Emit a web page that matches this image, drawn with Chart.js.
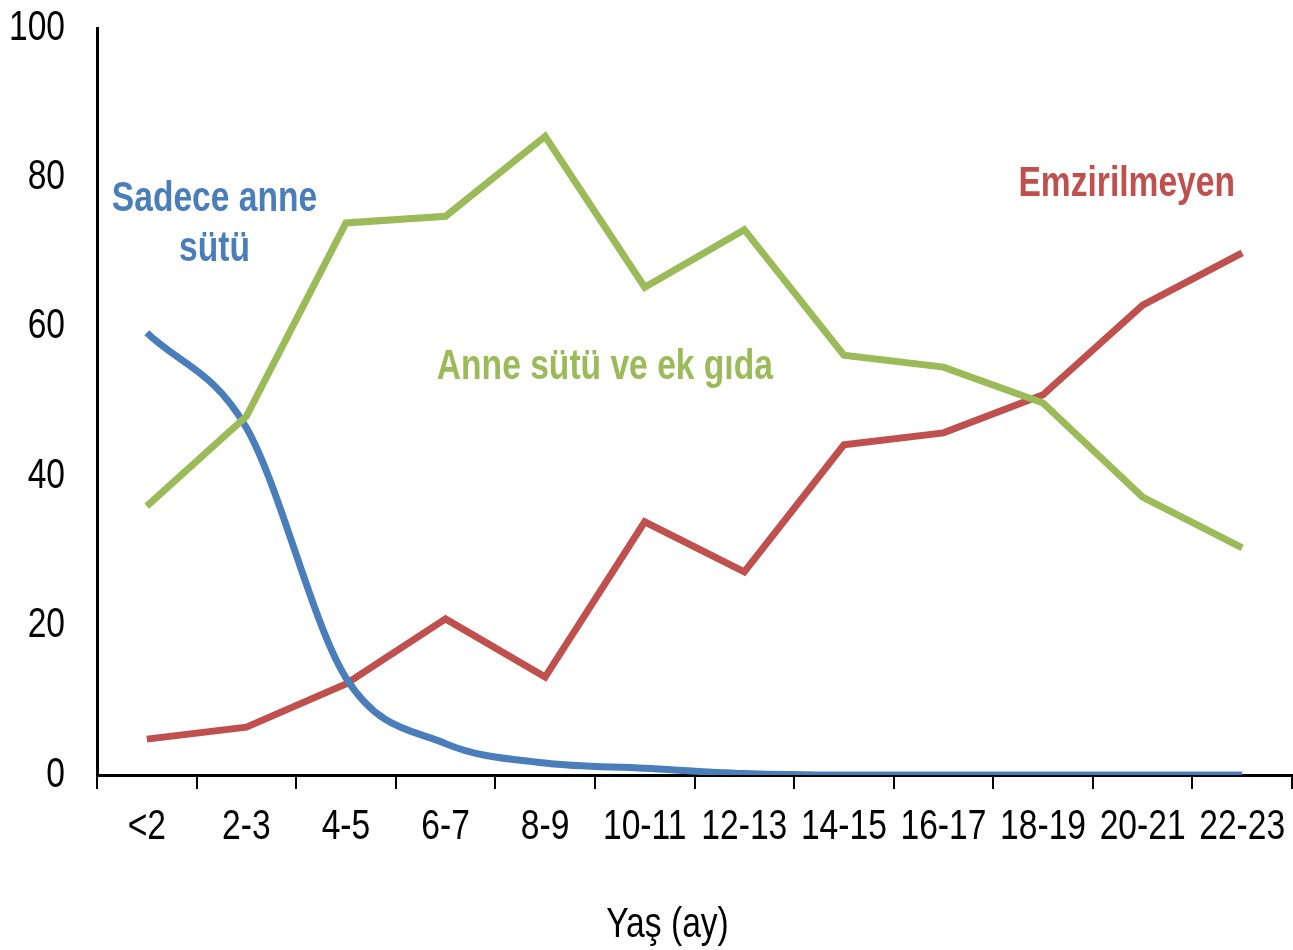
<!DOCTYPE html>
<html>
<head>
<meta charset="utf-8">
<script src="https://cdn.jsdelivr.net/npm/chart.js@4"></script>
<style>
  html, body { margin: 0; padding: 0; background: #fff; }
  #wrap { width: 1293px; height: 950px; }
</style>
</head>
<body>
<div id="wrap"><canvas id="lineChart"></canvas></div>
<script>
// Yaş grupları (ay)
let ageGroups = ["<2", "2-3", "4-5", "6-7", "8-9", "10-11", "12-13", "14-15", "16-17", "18-19", "20-21", "22-23"];
let yTicks = [0, 20, 40, 60, 80, 100];
let xTitle = "Yaş (ay)";

// Seriler (%)
let exclusive = [59.2, 46.5, 13, 4.2, 1.6, 0.9, 0.2, 0, 0, 0, 0, 0];
let mixed = [36, 48, 73.9, 74.8, 85.5, 65.3, 73, 56.2, 54.6, 49.8, 37.2, 30.4];
let notBreastfed = [4.8, 6.4, 12.2, 20.9, 13.1, 33.9, 27.2, 44.2, 45.8, 50.9, 62.9, 69.9];

let blue = "#4a7ebb";
let green = "#9bbb59";
let red = "#c0504d";
let font = "'Liberation Sans', Arial, sans-serif";
let squeeze = 0.8; // dar yazı (Arial Narrow gibi)

// etiketler, veri koordinatlarında
let notes = [
    {text: "Sadece anne", x: 0.68, y: 77, color: blue},
    {text: "sütü", x: 0.68, y: 70.3, color: blue},
    {text: "Anne sütü ve ek gıda", x: 4.6, y: 54.5, color: green},
    {text: "Emzirilmeyen", x: 9.84, y: 79, color: red}
];

function narrowText(ctx, text, x, y, align) {
    ctx.save();
    ctx.translate(x, y);
    ctx.scale(squeeze, 1);
    ctx.textAlign = align;
    ctx.textBaseline = "middle";
    ctx.fillText(text, 0, 0);
    ctx.restore();
}

const narrowLabels = {
    id: "narrowLabels",
    afterDraw(chart) {
        const ctx = chart.ctx;
        const xs = chart.scales.x, ys = chart.scales.y;
        ctx.save();
        ctx.fillStyle = "#000";
        ctx.font = "42px " + font;
        xs.ticks.forEach((t, i) => {
            narrowText(ctx, ageGroups[t.value], xs.getPixelForTick(i), xs.top + 52, "center");
        });
        ys.ticks.forEach((t, i) => {
            narrowText(ctx, String(t.value), ys.right - 32, ys.getPixelForTick(i), "right");
        });
        narrowText(ctx, xTitle, (xs.left + xs.right) / 2 - 27, xs.top + 150, "center");

        ctx.font = "bold 42px " + font;
        notes.forEach(n => {
            ctx.fillStyle = n.color;
            narrowText(ctx, n.text, xs.getPixelForValue(n.x), ys.getPixelForValue(n.y), "center");
        });
        ctx.restore();
    }
};

new Chart("lineChart", {
    type: "line",
    data: {
        labels: ageGroups,
        datasets: [
            {label: "Anne sütü ve ek gıda", data: mixed, borderColor: green, borderWidth: 7, pointRadius: 0, tension: 0},
            {label: "Sadece anne sütü", data: exclusive, borderColor: blue, borderWidth: 7, pointRadius: 0, cubicInterpolationMode: "monotone"},
            {label: "Emzirilmeyen", data: notBreastfed, borderColor: red, borderWidth: 7, pointRadius: 0, tension: 0}
        ]
    },
    options: {
        responsive: true,
        maintainAspectRatio: false,
        animation: false,
        layout: {padding: {top: 28, left: 0, right: 1, bottom: 0}},
        plugins: {
            legend: {display: false},
            tooltip: {enabled: false}
        },
        scales: {
            x: {
                offset: true,
                grid: {offset: true, drawOnChartArea: false, color: "#000", lineWidth: 2, tickLength: 14},
                border: {color: "#000", width: 3},
                ticks: {display: false, autoSkip: false},
                afterFit: axis => { axis.height = 175; }
            },
            y: {
                min: 0,
                max: 100,
                afterBuildTicks: axis => { axis.ticks = yTicks.map(v => ({value: v})); },
                grid: {drawOnChartArea: false, drawTicks: false},
                border: {color: "#000", width: 3},
                ticks: {display: false},
                afterFit: axis => { axis.width = 97; }
            }
        }
    },
    plugins: [narrowLabels]
});
</script>
</body>
</html>
